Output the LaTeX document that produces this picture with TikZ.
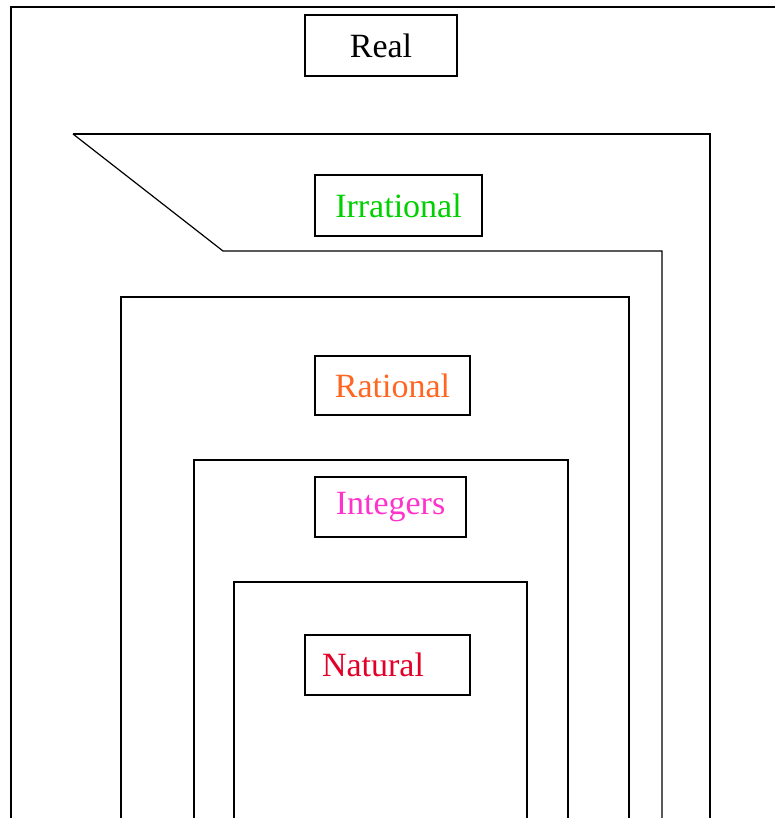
\documentclass[tikz,border=0pt]{standalone}
\usepackage{fontspec}
\setmainfont{Liberation Serif}
\usepackage{xcolor}
\definecolor{irrgreen}{RGB}{0,208,0}
\definecolor{ratorange}{RGB}{255,102,34}
\definecolor{intpink}{RGB}{255,51,204}
\definecolor{natred}{RGB}{226,0,40}

\begin{document}
\begin{tikzpicture}[x=1pt, y=-1pt, line width=1.2pt,
    every node/.style={rectangle, draw, line width=1.2pt, minimum height=60pt, font=\fontsize{34}{40}\selectfont}]
    \useasboundingbox (0,0) rectangle (774,818);
    % sets
    \draw (11,830) -- (11,7) -- (790,7);
    \draw (73,134) -- (710,134) -- (710,830);
    \draw (73,134) -- (223,251) -- (662,251) -- (662,830);
    \draw (121,830) -- (121,297) -- (629,297) -- (629,830);
    \draw (194,830) -- (194,460) -- (568,460) -- (568,830);
    \draw (234,830) -- (234,582) -- (527,582) -- (527,830);
    % labels
    \node[minimum width=152pt, minimum height=61pt] (real) at (381,45.5) {Real};
    \node[minimum width=167pt, minimum height=61pt, text=irrgreen] (irrational) at (398.5,205.5) {Irrational};
    \node[minimum width=155pt, minimum height=59pt, text=ratorange] (rational) at (392.5,385.5) {Rational};
    \node[minimum width=151pt, text=intpink] (integers) at (390.5,507) {Integers};
    \node[text width=131pt, inner xsep=17pt, align=left, text=natred] (natural) at (387.5,665) {Natural};
\end{tikzpicture}
\end{document}
